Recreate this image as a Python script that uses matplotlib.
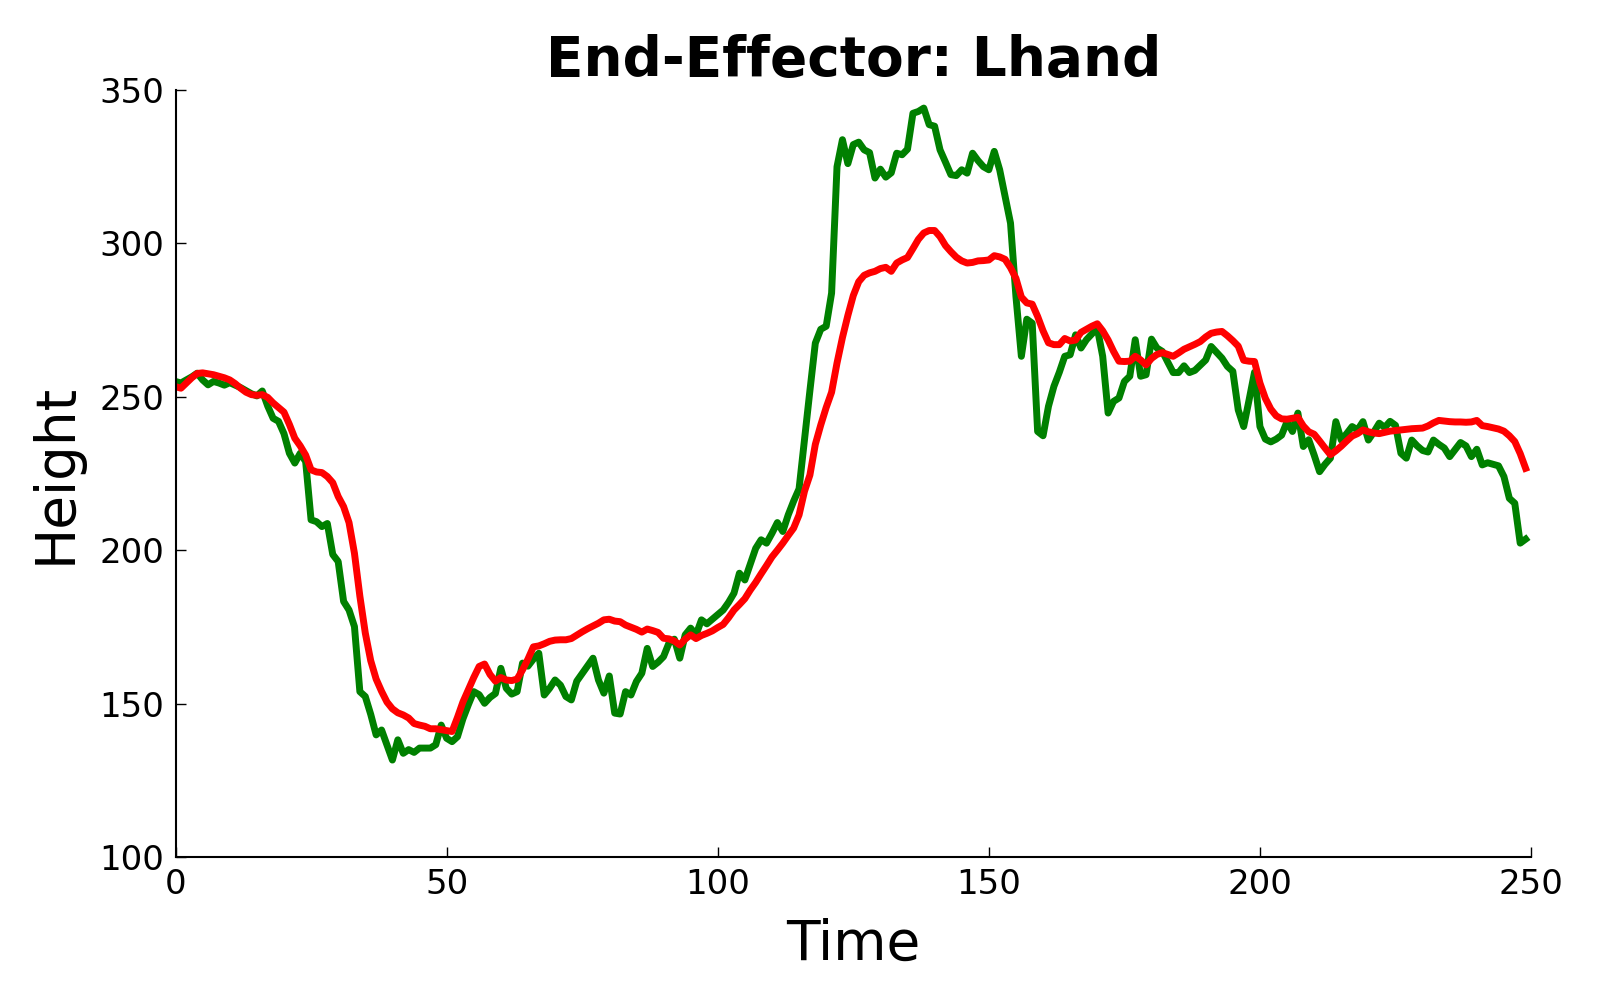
import matplotlib
matplotlib.use("Agg")
import matplotlib.pyplot as plt
import numpy as np

# time steps 0..249
time = np.arange(250)

# measured end-effector height (green)
measured = [
    255, 254.5, 255.5, 256.5, 257.7, 255.5, 253.9, 255, 254.5, 253.8,
    254.6, 253.8, 253, 252, 251, 250.3, 251.9, 247, 243, 242,
    238, 231.6, 228.4, 231.6, 228.9, 209.9, 209.3, 207.7, 208.7, 198.6,
    196.3, 183.3, 180.5, 175.1, 153.9, 152.3, 146.5, 139.8, 141.4, 136.5,
    131.6, 138.2, 133.8, 135, 134.1, 135.5, 135.5, 135.5, 136.6, 143,
    138.7, 137.6, 139.2, 145, 149.6, 153.9, 152.9, 150.1, 152, 153.3,
    161.5, 155, 153.1, 153.9, 163.2, 162.2, 164.5, 166.4, 152.8, 155,
    157.7, 156, 152.3, 151.2, 157.3, 159.8, 162.3, 164.8, 157.7, 153.4,
    159, 146.9, 146.6, 153.9, 152.8, 157.2, 159.9, 168, 162.1, 163.5,
    165.3, 169.7, 171, 164.8, 172.4, 174.6, 172.4, 177.3, 176, 177.5,
    179, 180.5, 183, 186, 192.5, 190.3, 195.5, 200.6, 203.4, 202.3,
    205.5, 209, 206.1, 211.5, 216, 220, 236, 252, 267.5, 272,
    273, 283.8, 325, 333.8, 326, 332.2, 333, 330.5, 329.6, 321.3,
    324.2, 321.6, 323, 329.4, 328.9, 330.7, 342.4, 343, 344.1, 338.7,
    338.2, 330.5, 326.5, 322.4, 322.1, 324, 322.9, 329.4, 327, 325,
    324, 330, 324, 315.3, 306.6, 282.7, 263.2, 275.3, 274, 238.7,
    237.3, 246.9, 253.4, 258, 263.2, 263.7, 270.2, 265.9, 268.6, 270.5,
    272.4, 263.2, 244.7, 248.5, 249.6, 255, 256.7, 268.6, 256.7, 257.2,
    268.8, 265.9, 264.8, 261.3, 257.9, 257.9, 260.1, 257.9, 258.6, 260.3,
    262, 266.4, 264.5, 262.6, 259.9, 258.3, 245.7, 240.3, 249, 258,
    240.3, 236.2, 235.3, 236.2, 237.5, 241.9, 238.7, 244.7, 233.8, 236,
    231, 225.6, 228, 230, 241.9, 235.9, 238, 240.3, 239.2, 241.9,
    235.9, 238.5, 241.4, 240, 242, 240.7, 231.6, 230, 235.9, 234,
    232.5, 232, 235.9, 234.5, 233.3, 230.5, 232.8, 235.1, 234, 230.5,
    232.9, 227.8, 228.5, 228, 227.5, 224, 216.9, 215.3, 202.3, 203.6,
]

# smoothed / reconstructed height (red)
smoothed = [
    253.3, 252.8, 254.5, 256.2, 257.6, 257.8, 257.5, 257.2, 256.7, 256.2,
    255.5, 254.3, 252.8, 251.5, 250.7, 250.5, 250.7, 249.8, 248, 246.5,
    245, 241, 236.5, 234, 231, 226.2, 225.5, 225.3, 224, 222,
    217.5, 214.2, 209, 199, 185, 173, 164, 158, 154, 150.5,
    148.3, 147, 146.3, 145.3, 143.5, 143, 142.6, 141.8, 141.8, 141.5,
    141.2, 140.9, 145.5, 150.5, 154.5, 158.5, 162.1, 162.9, 159.5, 157.3,
    158.5, 157.7, 157.5, 158, 161, 164.5, 168.5, 168.8, 169.5, 170.3,
    170.7, 170.8, 170.8, 171.2, 172.3, 173.4, 174.4, 175.3, 176.2, 177.3,
    177.5, 176.9, 176.7, 175.6, 174.9, 174.2, 173.3, 174.3, 173.8, 173.2,
    171.3, 171.1, 170.4, 169.1, 171, 172.4, 171.2, 172.2, 172.9, 173.7,
    174.8, 175.8, 178, 180.5, 182.3, 184.2, 187, 189.5, 192.3, 195,
    197.8, 200, 202.3, 204.8, 207.2, 211.5, 219.2, 224.5, 234.5, 240.8,
    246.5, 251.5, 261, 269.3, 276.5, 283, 287.5, 289.6, 290.4, 290.9,
    291.8, 292.2, 290.9, 293.6, 294.6, 295.4, 298.3, 301.3, 303.4, 304.2,
    304.2, 302.2, 299.3, 297.3, 295.5, 294.3, 293.6, 293.8, 294.3, 294.4,
    294.6, 296, 295.6, 294.8, 292.1, 288.6, 282.5, 280.6, 280.2, 276.2,
    271.5, 267.6, 267, 267, 269, 268.2, 268.5, 271, 272, 273,
    273.8, 271.5, 268.5, 264.8, 261.6, 261.5, 261.6, 263.2, 262, 260.4,
    262.5, 263.8, 264.4, 263.8, 263.2, 264.3, 265.5, 266.3, 267.1, 268,
    269.5, 270.7, 271.1, 271.3, 269.9, 268.3, 266.5, 261.9, 261.6, 261.5,
    254.5, 249.5, 246, 243.8, 242.8, 242.7, 243, 243.3, 240.5, 238.6,
    237.8, 235.6, 233.3, 231.1, 232.4, 233.9, 235.6, 237.2, 238, 239.2,
    238.6, 238.2, 238, 238.4, 238.8, 239, 239.2, 239.4, 239.6, 239.7,
    239.8, 240.5, 241.5, 242.3, 242.1, 241.9, 241.8, 241.8, 241.7, 241.8,
    242.3, 240.6, 240.3, 239.9, 239.5, 238.8, 237.3, 235.4, 231.5, 226.7,
]

x_ticks = [0, 50, 100, 150, 200, 250]
y_ticks = [100, 150, 200, 250, 300, 350]

fig = plt.figure(figsize=(16, 10), dpi=100)
ax = fig.add_axes([0.1097, 0.143, 0.8472, 0.767])

ax.plot(time, measured, color="green", linewidth=5)
ax.plot(time, smoothed, color="red", linewidth=5)

ax.set_xlim(0, 250)
ax.set_ylim(100, 350)
ax.set_xticks(x_ticks)
ax.set_yticks(y_ticks)

ax.spines["top"].set_visible(False)
ax.spines["right"].set_visible(False)
ax.spines["left"].set_linewidth(1.5)
ax.spines["bottom"].set_linewidth(1.5)
ax.tick_params(direction="in", length=7, width=1, pad=8, labelsize=24.5,
               top=False, right=False)

ax.set_title("End-Effector: Lhand", fontsize=39.5, fontweight="bold", pad=10)
ax.set_xlabel("Time", fontsize=39.5, labelpad=12)
ax.set_ylabel("Height", fontsize=39.5, labelpad=12)

fig.savefig("out.png", dpi=100)
